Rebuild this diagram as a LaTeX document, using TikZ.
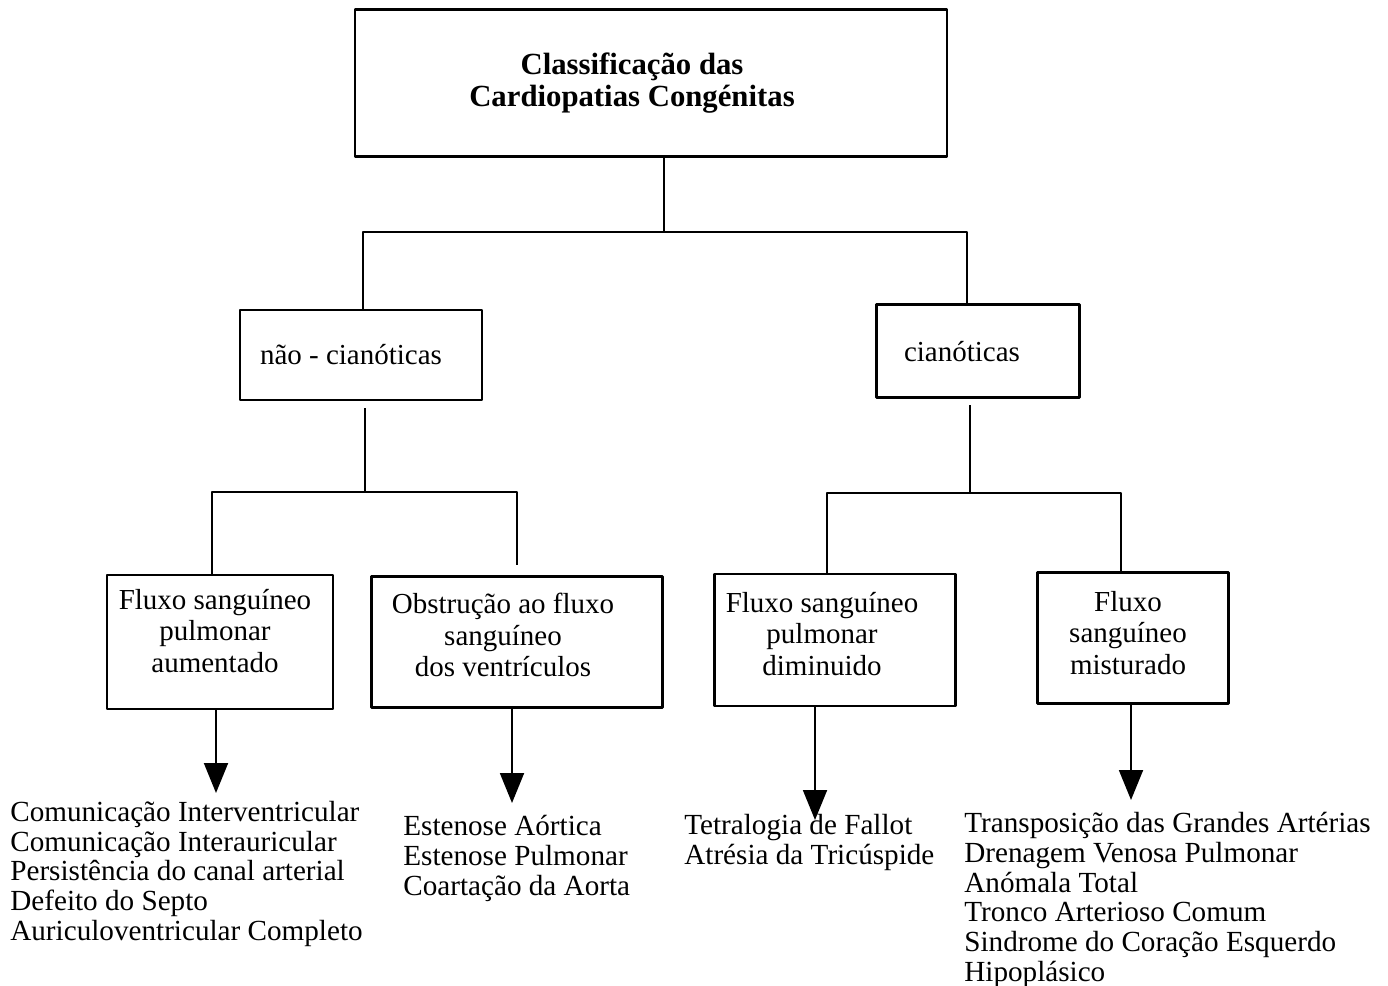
\documentclass[tikz,border=0pt]{standalone}
\usepackage{fontspec}
\setmainfont{Liberation Serif}
\usetikzlibrary{arrows.meta}
\begin{document}
\begin{tikzpicture}[x=0.02cm,y=-0.02cm,line join=round,
	box/.style={draw,line width=1.4pt,inner sep=0pt},
	boxtext/.style={inner sep=0pt,align=center,font=\fontsize{16.5}{18}\selectfont},
	link/.style={line width=1.1pt},
	arr/.style={line width=1.1pt,-{Triangle[length=0.6cm,width=0.48cm]}},
	list/.style={anchor=north west,inner sep=0pt,align=left,font=\fontsize{16.6}{16.9}\selectfont}]
	\useasboundingbox (0,0) rectangle (1388,986);
	% boxes
	\node[box,minimum width=11.84cm,minimum height=2.94cm] (top) at (651,83) {};
	\node[box,minimum width=4.84cm,minimum height=1.8cm] (nc) at (361,355) {};
	\node[box,minimum width=4.06cm,minimum height=1.86cm] (cy) at (978,351) {};
	\node[box,minimum width=4.52cm,minimum height=2.68cm] (b1) at (220,642) {};
	\node[box,minimum width=5.82cm,minimum height=2.62cm] (b2) at (517,642) {};
	\node[box,minimum width=4.82cm,minimum height=2.64cm] (b3) at (835,640) {};
	\node[box,minimum width=3.82cm,minimum height=2.62cm] (b4) at (1133,638) {};
	% box texts
	\node[boxtext,font=\bfseries\fontsize{17.5}{18.5}\selectfont] (ttop) at (632,83) {Classificação das\\Cardiopatias Congénitas};
	\node[boxtext] (tnc) at (351,355) {não - cianóticas};
	\node[boxtext] (tcy) at (962,352) {cianóticas};
	\node[boxtext] (tb1) at (215,631) {Fluxo sanguíneo\\pulmonar\\aumentado};
	\node[boxtext] (tb2) at (503,635) {Obstrução ao fluxo\\sanguíneo\\dos ventrículos};
	\node[boxtext] (tb3) at (822,634) {Fluxo sanguíneo\\pulmonar\\diminuido};
	\node[boxtext] (tb4) at (1128,633) {Fluxo\\sanguíneo\\misturado};
	% junctions
	\coordinate (j0) at (664,232);
	\coordinate (j1) at (363,232);
	\coordinate (j2) at (967,232);
	\coordinate (k0) at (365,408);
	\coordinate (k1) at (365,492);
	\coordinate (k2) at (212,492);
	\coordinate (k3) at (517,492);
	\coordinate (k4) at (517,565);
	\coordinate (m0) at (970,405);
	\coordinate (m1) at (970,493);
	\coordinate (m2) at (827,493);
	\coordinate (m3) at (1121,493);
	\coordinate (m4) at (1121,571);
	\draw[link] (top.south -| j0) -- (j0);
	\draw[link] (nc.north -| j1) -- (j1) -- (j2) -- (cy.north -| j2);
	\draw[link] (k0) -- (k1);
	\draw[link] (b1.north -| k2) -- (k2) -- (k3) -- (k4);
	\draw[link] (m0) -- (m1);
	\draw[link] (b3.north -| m2) -- (m2) -- (m3) -- (m4);
	% arrows
	\coordinate (a1) at (216,793);
	\coordinate (a2) at (512,803);
	\coordinate (a3) at (815,820);
	\coordinate (a4) at (1131,800);
	\foreach \b/\a in {b1/a1,b2/a2,b3/a3,b4/a4}
	\draw[arr] (\b.south -| \a) -- (\a);
	% lists
	\node[list] (l1) at (10,801) {Comunicação Interventricular\\Comunicação Interauricular\\Persistência do canal arterial\\Defeito do Septo\\Auriculoventricular Completo};
	\node[list] (l2) at (403,815) {Estenose Aórtica\\Estenose Pulmonar\\Coartação da Aorta};
	\node[list] (l3) at (684,814) {Tetralogia de Fallot\\Atrésia da Tricúspide};
	\node[list] (l4) at (964,812) {Transposição das Grandes Artérias\\Drenagem Venosa Pulmonar\\Anómala Total\\Tronco Arterioso Comum\\Sindrome do Coração Esquerdo\\Hipoplásico};
\end{tikzpicture}
\end{document}
